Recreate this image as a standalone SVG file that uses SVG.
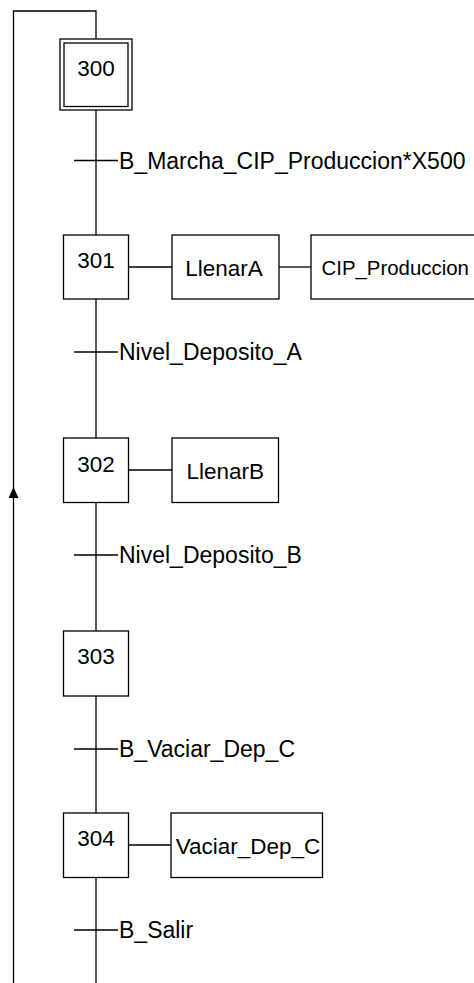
<svg xmlns="http://www.w3.org/2000/svg" width="474" height="983" viewBox="0 0 474 983">
<style>
  .box { fill: #ffffff; stroke: #000000; stroke-width: 1.3; }
  .ln { fill: none; stroke: #000000; stroke-width: 1.3; }
  .num { font-family: "Liberation Sans", Arial, sans-serif; font-size: 22.5px; fill: #000000; text-anchor: middle; }
  .act { font-family: "Liberation Sans", Arial, sans-serif; font-size: 22.5px; fill: #000000; text-anchor: middle; }
  .cond { font-family: "Liberation Sans", Arial, sans-serif; font-size: 23px; fill: #000000; }
</style>
<rect width="474" height="983" fill="#ffffff"/>

<g id="connectors">
  <!-- loop back line -->
  <path class="ln" d="M13.5,983 L13.5,11 L96,11 L96,39"/>
  <path d="M13.5,487 L8.5,498 L18.5,498 Z" fill="#000000"/>
  <!-- main vertical segments -->
  <line class="ln" x1="96" y1="110" x2="96" y2="235"/>
  <line class="ln" x1="96" y1="299" x2="96" y2="438"/>
  <line class="ln" x1="96" y1="503" x2="96" y2="631"/>
  <line class="ln" x1="96" y1="696" x2="96" y2="813"/>
  <line class="ln" x1="96" y1="877" x2="96" y2="983"/>
  <!-- action links -->
  <line class="ln" x1="128.5" y1="267" x2="172" y2="267"/>
  <line class="ln" x1="279" y1="267" x2="311" y2="267"/>
  <line class="ln" x1="128.5" y1="470" x2="172" y2="470"/>
  <line class="ln" x1="128.5" y1="845" x2="171" y2="845"/>
</g>

<g id="step300">
  <rect class="box" x="60" y="39" width="72" height="71"/>
  <rect class="box" x="64" y="43" width="64" height="63.5"/>
  <text class="num" x="96" y="76">300</text>
</g>

<g id="t300_301">
  <line class="ln" x1="74" y1="160.5" x2="118" y2="160.5"/>
  <text class="cond" x="119" y="168.7">B_Marcha_CIP_Produccion*X500</text>
</g>

<g id="step301">
  <rect class="box" x="63.5" y="235" width="65" height="64"/>
  <text class="num" x="96" y="268">301</text>
</g>
<g id="action301a">
  <rect class="box" x="172" y="235" width="107" height="64"/>
  <text class="act" x="224" y="275.5">LlenarA</text>
</g>
<g id="action301b">
  <rect class="box" x="311" y="235" width="181" height="64"/>
  <text class="act" x="321.5" y="275" style="text-anchor:start;font-size:20.4px">CIP_Produccion</text>
</g>

<g id="t301_302">
  <line class="ln" x1="74" y1="352" x2="118" y2="352"/>
  <text class="cond" x="119" y="360.2">Nivel_Deposito_A</text>
</g>

<g id="step302">
  <rect class="box" x="63.5" y="438" width="65" height="64.5"/>
  <text class="num" x="96" y="471.5">302</text>
</g>
<g id="action302">
  <rect class="box" x="172" y="438" width="106.5" height="64.5"/>
  <text class="act" x="225.3" y="478.5">LlenarB</text>
</g>

<g id="t302_303">
  <line class="ln" x1="74" y1="555" x2="118" y2="555"/>
  <text class="cond" x="119" y="563.2">Nivel_Deposito_B</text>
</g>

<g id="step303">
  <rect class="box" x="63.5" y="631" width="65" height="65"/>
  <text class="num" x="96" y="664">303</text>
</g>

<g id="t303_304">
  <line class="ln" x1="74" y1="749" x2="118" y2="749"/>
  <text class="cond" x="119" y="757.2">B_Vaciar_Dep_C</text>
</g>

<g id="step304">
  <rect class="box" x="63.5" y="813" width="65" height="64.5"/>
  <text class="num" x="96" y="845.5">304</text>
</g>
<g id="action304">
  <rect class="box" x="171" y="813" width="151.5" height="64.5"/>
  <text class="act" x="248" y="853.5">Vaciar_Dep_C</text>
</g>

<g id="t304_300">
  <line class="ln" x1="74" y1="930" x2="118" y2="930"/>
  <text class="cond" x="119" y="938.2">B_Salir</text>
</g>
</svg>
